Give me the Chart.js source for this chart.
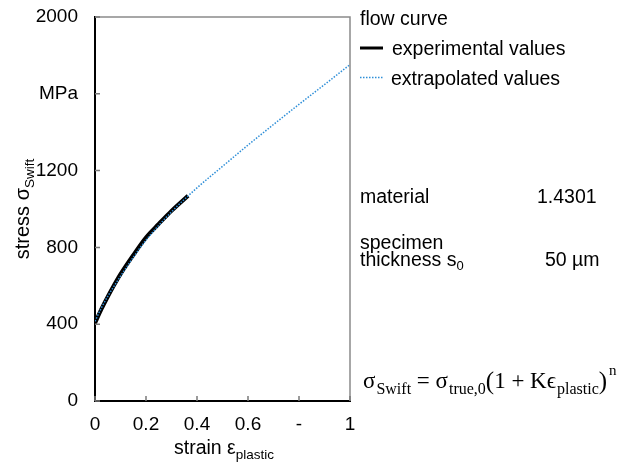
<!DOCTYPE html>
<html>
<head>
<meta charset="utf-8">
<script src="https://cdn.jsdelivr.net/npm/chart.js@4.4.1/dist/chart.umd.min.js"></script>
<style>
  html, body { margin: 0; padding: 0; background: #fff; }
  #wrap { width: 627px; height: 462px; }
</style>
</head>
<body>
<div id="wrap"><canvas id="flowChart" width="627" height="462"></canvas></div>
<script>
// flow curve data (strain -, stress MPa)
const expStrain = [0, 0.025, 0.05, 0.075, 0.1, 0.15, 0.2, 0.25, 0.3, 0.365];
const expStress = [405, 478, 543, 604, 661, 760, 852, 922, 990, 1069];

const extStrain = [0, 0.025, 0.05, 0.1, 0.15, 0.2, 0.3, 0.4, 0.5, 0.6, 0.7, 0.8, 0.9, 1.0];
const extStress = [415, 485, 545, 650, 748, 838, 985, 1110, 1222, 1333, 1440, 1545, 1648, 1752];

const yTicks = [0, 400, 800, 1200, 1600, 2000];
const yTickLabels = ['0', '400', '800', '1200', 'MPa', '2000'];
const xTicks = [0, 0.2, 0.4, 0.6, 0.8, 1];
const xTickLabels = ['0', '0.2', '0.4', '0.6', '-', '1'];

const SANS = '"Liberation Sans", Arial, sans-serif';
const SERIF = '"Liberation Serif", "DejaVu Serif", serif';
const BLUE = '#2f8fd8';

const toPoints = (xs, ys) => xs.map((x, i) => ({ x, y: ys[i] }));

// draw a run of text pieces [text, size, dy, family, gap] left to right
function drawRun(ctx, parts, x, y) {
  let cx = x;
  parts.forEach(p => {
    ctx.font = p[1] + 'px ' + (p[3] || SANS);
    ctx.fillText(p[0], cx, y + (p[2] || 0));
    cx += ctx.measureText(p[0]).width + (p[4] || 0);
  });
  return cx - x;
}
function runWidth(ctx, parts) {
  let w = 0;
  parts.forEach(p => {
    ctx.font = p[1] + 'px ' + (p[3] || SANS);
    w += ctx.measureText(p[0]).width + (p[4] || 0);
  });
  return w;
}

const decorPlugin = {
  id: 'decor',
  afterDraw(chart) {
    const ctx = chart.ctx;
    const a = chart.chartArea;
    const xs = chart.scales.x, ys = chart.scales.y;
    ctx.save();

    // top and right frame
    ctx.strokeStyle = '#8a8a8a';
    ctx.lineWidth = 1.5;
    ctx.beginPath();
    ctx.moveTo(a.left, a.top);
    ctx.lineTo(a.right, a.top);
    ctx.lineTo(a.right, a.bottom);
    ctx.stroke();

    // inward tick marks
    ctx.strokeStyle = '#7a7a7a';
    ctx.lineWidth = 1.5;
    ctx.beginPath();
    xs.ticks.forEach((t, i) => {
      const px = xs.getPixelForTick(i);
      ctx.moveTo(px, a.bottom);
      ctx.lineTo(px, a.bottom - 5);
    });
    ys.ticks.forEach((t, i) => {
      const py = ys.getPixelForTick(i);
      ctx.moveTo(a.left, py);
      ctx.lineTo(a.left + 5, py);
    });
    ctx.stroke();

    ctx.fillStyle = '#000';
    ctx.textBaseline = 'alphabetic';
    ctx.textAlign = 'left';

    // x axis title
    const xt = [['strain \u03b5', 19.5], ['plastic', 13.5, 5]];
    drawRun(ctx, xt, 224 - runWidth(ctx, xt) / 2, 454);

    // y axis title
    ctx.save();
    ctx.translate(29, 209);
    ctx.rotate(-Math.PI / 2);
    const yt = [['stress \u03c3', 20], ['Swift', 13.5, 5]];
    drawRun(ctx, yt, -runWidth(ctx, yt) / 2, 0);
    ctx.restore();

    // legend
    ctx.font = '19.5px ' + SANS;
    ctx.fillText('flow curve', 360, 25);
    ctx.strokeStyle = '#000';
    ctx.lineWidth = 3;
    ctx.beginPath();
    ctx.moveTo(360, 48); ctx.lineTo(383, 48);
    ctx.stroke();
    ctx.fillText('experimental values', 392, 55);
    ctx.strokeStyle = BLUE;
    ctx.lineWidth = 1.5;
    ctx.setLineDash([1.5, 1.5]);
    ctx.beginPath();
    ctx.moveTo(360, 77.5); ctx.lineTo(383, 77.5);
    ctx.stroke();
    ctx.setLineDash([]);
    ctx.fillText('extrapolated values', 391, 85);

    // specimen info
    ctx.fillText('material', 360, 203);
    ctx.fillText('1.4301', 537, 203);
    ctx.fillText('specimen', 360, 249);
    drawRun(ctx, [['thickness s', 19.5], ['0', 13, 4]], 360, 266);
    ctx.font = '19.5px ' + SANS;
    ctx.fillText('50 \u00b5m', 545, 266);

    // Swift equation
    drawRun(ctx, [
      ['\u03c3', 23, 0, SERIF, 1],
      ['Swift', 16, 6, SERIF, 0],
      [' = ', 23, 0, SERIF],
      ['\u03c3', 23, 0, SERIF, 1],
      ['true,0', 16, 6, SERIF, 0],
      ['(', 25, 1, SERIF, 0],
      ['1 + K\u03f5', 23, 0, SERIF, 1],
      ['plastic', 16, 6, SERIF, 0],
      [')', 25, 1, SERIF, 2],
      ['n', 15, -13, SERIF]
    ], 363, 388);

    ctx.restore();
  }
};

new Chart(document.getElementById('flowChart'), {
  type: 'line',
  data: {
    datasets: [
      {
        label: 'extrapolated values',
        data: toPoints(extStrain, extStress),
        borderColor: BLUE,
        borderWidth: 1.5,
        borderDash: [1.5, 1.5],
        pointRadius: 0,
        cubicInterpolationMode: 'monotone',
        fill: false,
      },
      {
        label: 'experimental values',
        data: toPoints(expStrain, expStress),
        borderColor: '#000',
        borderWidth: 4,
        pointRadius: 0,
        cubicInterpolationMode: 'monotone',
        fill: false,
      },
    ],
  },
  options: {
    responsive: false,
    animation: false,
    events: [],
    layout: { padding: { top: 17, right: 277, left: 0, bottom: 0 } },
    plugins: { legend: { display: false }, tooltip: { enabled: false } },
    scales: {
      x: {
        type: 'linear',
        min: 0,
        max: 1,
        afterBuildTicks: s => { s.ticks = xTicks.map(v => ({ value: v })); },
        afterFit: s => { s.height = 61; s.paddingLeft = 0; s.paddingRight = 0; },
        ticks: {
          color: '#000',
          font: { family: SANS, size: 19 },
          padding: 12,
          maxRotation: 0,
          callback: v => xTickLabels[xTicks.indexOf(v)],
        },
        grid: { display: false, drawTicks: false },
        border: { display: true, color: '#000', width: 2 },
      },
      y: {
        min: 0,
        max: 2000,
        afterBuildTicks: s => { s.ticks = yTicks.map(v => ({ value: v })); },
        afterFit: s => { s.width = 95; s.paddingTop = 0; s.paddingBottom = 0; },
        ticks: {
          color: '#000',
          font: { family: SANS, size: 19 },
          padding: 17,
          callback: v => yTickLabels[yTicks.indexOf(v)],
        },
        grid: { display: false, drawTicks: false },
        border: { display: true, color: '#000', width: 2 },
      },
    },
  },
  plugins: [decorPlugin],
});
</script>
</body>
</html>
